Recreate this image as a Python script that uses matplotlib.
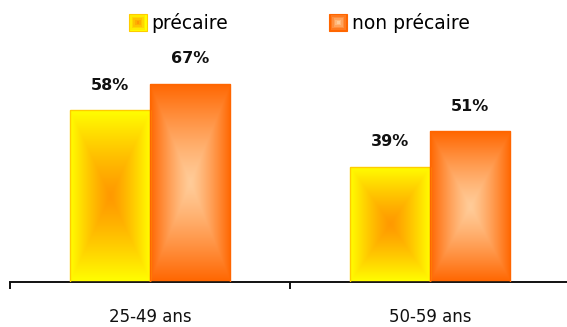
import numpy as np
import matplotlib
matplotlib.use("Agg")
import matplotlib.pyplot as plt
from matplotlib.colors import to_rgb
from matplotlib.patches import Rectangle
from matplotlib.legend_handler import HandlerBase

categories = ["25-49 ans", "50-59 ans"]
series = ["précaire", "non précaire"]
precaire = [58, 39]
non_precaire = [67, 51]

# (edge colour, centre colour, outline) for each series
styles = [
    ("#FFFF00", "#FF9900", "#FFCC00"),
    ("#FF6600", "#FFCC99", "#FF6600"),
]


def gradient_image(edge, centre, n=200):
    # rectangular "path" gradient: centre colour in the middle, edge colour at the border
    xs = np.linspace(-1, 1, n)
    u, v = np.meshgrid(xs, xs)
    t = np.maximum(np.abs(u), np.abs(v)) ** 1.25
    e = np.array(to_rgb(edge))
    c = np.array(to_rgb(centre))
    return c[None, None, :] * (1 - t[..., None]) + e[None, None, :] * t[..., None]


class GradientSquare(HandlerBase):
    def __init__(self, edge, centre, outline):
        super().__init__()
        self.edge, self.centre, self.outline = edge, centre, outline

    def create_artists(self, legend, orig_handle, xdescent, ydescent, width, height, fontsize, trans):
        side = min(width, height)
        x0 = -xdescent + (width - side) / 2
        y0 = -ydescent + (height - side) / 2
        e = np.array(to_rgb(self.edge))
        c = np.array(to_rgb(self.centre))
        arts = []
        steps = 6
        for k in range(steps):
            f = k / (steps - 1)
            s = side * (1 - 0.85 * f)
            col = e * (1 - f) + c * f
            r = Rectangle((x0 + (side - s) / 2, y0 + (side - s) / 2), s, s,
                          facecolor=col, edgecolor=self.outline if k == 0 else "none",
                          lw=0.8 if k == 0 else 0, transform=trans)
            arts.append(r)
        return arts


fig = plt.figure(figsize=(5.67, 3.27), dpi=100)
ax = fig.add_axes([10 / 567, 1 - 282 / 327, 560 / 567, 282 / 327])

x = np.arange(len(categories))
width = 0.286
handles = []
for offset, values, (edge, centre, outline), name in zip(
        [-width / 2, width / 2], [precaire, non_precaire], styles, series):
    bars = ax.bar(x + offset, values, width=width, facecolor="none",
                  edgecolor=outline, linewidth=1.0, label=name, zorder=3)
    img = gradient_image(edge, centre)
    for bar, val in zip(bars, values):
        bx, by = bar.get_x(), bar.get_y()
        im = ax.imshow(img, extent=[bx, bx + bar.get_width(), by, by + bar.get_height()],
                       aspect="auto", interpolation="bilinear", zorder=2)
        im.set_clip_path(bar)
        ax.annotate(f"{val}%", (bx + bar.get_width() / 2, by + bar.get_height()),
                    xytext=(0, 18), textcoords="offset points",
                    ha="center", va="center", fontsize=11.5, fontweight="bold",
                    color="#111111")
    handles.append(bars)

ax.set_xlim(-0.5, 1.5)
ax.set_ylim(0, 95.3)

for side in ["top", "right", "left"]:
    ax.spines[side].set_visible(False)
ax.spines["bottom"].set_linewidth(1.4)
ax.spines["bottom"].set_color("#111111")
ax.set_yticks([])

# tick marks between the groups, labels under each group
ax.set_xticks([-0.5, 0.5, 1.5])
ax.set_xticklabels([])
ax.set_xticks(x, minor=True)
ax.set_xticklabels(categories, minor=True, fontsize=12, color="#111111")
ax.tick_params(axis="x", which="major", length=5, width=1.4, color="#111111", direction="out")
ax.tick_params(axis="x", which="minor", length=0, pad=18.5)

fig.legend(handles, series, loc="center", bbox_to_anchor=(0.528, 0.93), ncol=2,
           frameon=False, fontsize=13.5, handlelength=0.95, handleheight=1.2,
           handletextpad=0.25, columnspacing=5.4, borderpad=0,
           handler_map={handles[0]: GradientSquare(*styles[0]),
                        handles[1]: GradientSquare(*styles[1])})

fig.savefig("out.png", dpi=100)
